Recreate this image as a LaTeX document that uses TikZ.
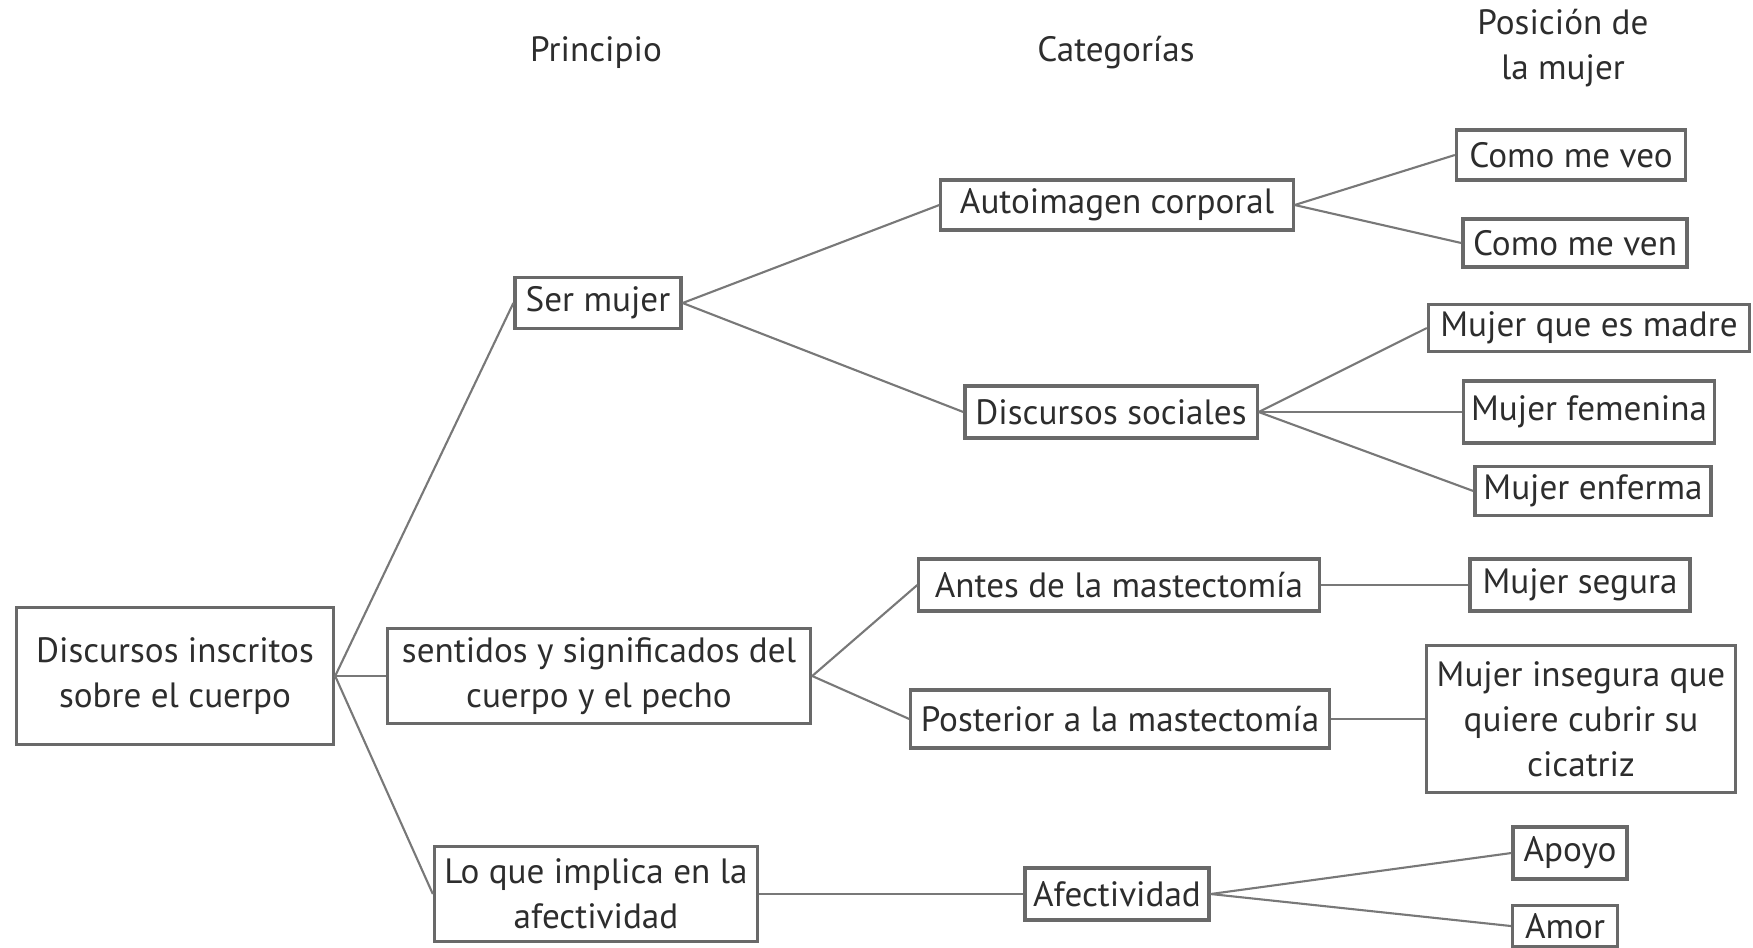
\documentclass[tikz,border=0pt]{standalone}
\usepackage{fontspec}
\setmainfont{PT Sans}
\usetikzlibrary{positioning}
\definecolor{linegray}{RGB}{120,120,120}
\definecolor{boxgray}{RGB}{105,105,105}
\definecolor{txtgray}{RGB}{45,45,45}

\begin{document}
\begin{tikzpicture}[x=0.01cm, y=-0.01cm,
  box/.style={draw=boxgray, line width=0.9pt, align=center, inner sep=2pt, text=txtgray, font=\fontsize{10}{12.8}\selectfont},
  hdr/.style={align=center, text=txtgray, font=\fontsize{10}{12.8}\selectfont},
  link/.style={draw=linegray, line width=0.6pt}]
\useasboundingbox (0,0) rectangle (1753,947);
% column headings
\node[hdr] (hprin) at (596,53) {Principio};
\node[hdr] (hcat) at (1116,53) {Categorías};
\node[hdr] (hpos) at (1563,48) {Posición de\\la mujer};
% root and principles
\node[box, minimum width=3.17cm, minimum height=1.37cm] (root) at (175,676) {Discursos inscritos\\sobre el cuerpo};
\node[box, minimum width=1.66cm, minimum height=0.51cm] (sermujer) at (598,303) {Ser mujer};
\node[box, minimum width=4.23cm, minimum height=0.95cm] (sentidos) at (599,676) {sentidos y significados del\\cuerpo y el pecho};
\node[box, minimum width=3.23cm, minimum height=0.95cm] (loque) at (596,894) {Lo que implica en la\\afectividad};
% categories
\node[box, minimum width=3.52cm, minimum height=0.50cm] (autoimagen) at (1117,205) {Autoimagen corporal};
\node[box, minimum width=2.92cm, minimum height=0.52cm] (discursos) at (1111,412) {Discursos sociales};
\node[box, minimum width=4.00cm, minimum height=0.52cm] (antes) at (1119,585) {Antes de la mastectomía};
\node[box, minimum width=4.18cm, minimum height=0.58cm] (posterior) at (1120,719) {Posterior a la mastectomía};
\node[box, minimum width=1.84cm, minimum height=0.52cm] (afectividad) at (1117,894) {Afectividad};
% positions
\node[box, minimum width=2.29cm, minimum height=0.50cm] (comoveo) at (1571,155) {Como me veo};
\node[box, minimum width=2.24cm, minimum height=0.48cm] (comoven) at (1575,243) {Como me ven};
\node[box, minimum width=3.21cm, minimum height=0.47cm] (madre) at (1589,328) {Mujer que es madre};
\node[box, minimum width=2.51cm, minimum height=0.62cm] (femenina) at (1589,412) {Mujer femenina};
\node[box, minimum width=2.36cm, minimum height=0.49cm] (enferma) at (1593,491) {Mujer enferma};
\node[box, minimum width=2.20cm, minimum height=0.52cm] (segura) at (1580,585) {Mujer segura};
\node[box, minimum width=3.08cm, minimum height=1.47cm] (insegura) at (1581,719) {Mujer insegura que\\quiere cubrir su\\cicatriz};
\node[box, minimum width=1.14cm, minimum height=0.52cm] (apoyo) at (1570,853) {Apoyo};
\node[box, minimum width=1.05cm, minimum height=0.41cm] (amor) at (1565,926) {Amor};
% connectors
\draw[link] (root.east) -- (sermujer.west);
\draw[link] (root.east) -- (sentidos.west);
\draw[link] (root.east) -- (loque.west);
\draw[link] (sermujer.east) -- (autoimagen.west);
\draw[link] (sermujer.east) -- (discursos.west);
\draw[link] (autoimagen.east) -- (comoveo.west);
\draw[link] (autoimagen.east) -- (comoven.west);
\draw[link] (discursos.east) -- (madre.west);
\draw[link] (discursos.east) -- (femenina.west);
\draw[link] (discursos.east) -- (enferma.west);
\draw[link] (sentidos.east) -- (antes.west);
\draw[link] (sentidos.east) -- (posterior.west);
\draw[link] (antes.east) -- (segura.west);
\draw[link] (posterior.east) -- (insegura.west);
\draw[link] (loque.east) -- (afectividad.west);
\draw[link] (afectividad.east) -- (apoyo.west);
\draw[link] (afectividad.east) -- (amor.west);
\end{tikzpicture}
\end{document}
